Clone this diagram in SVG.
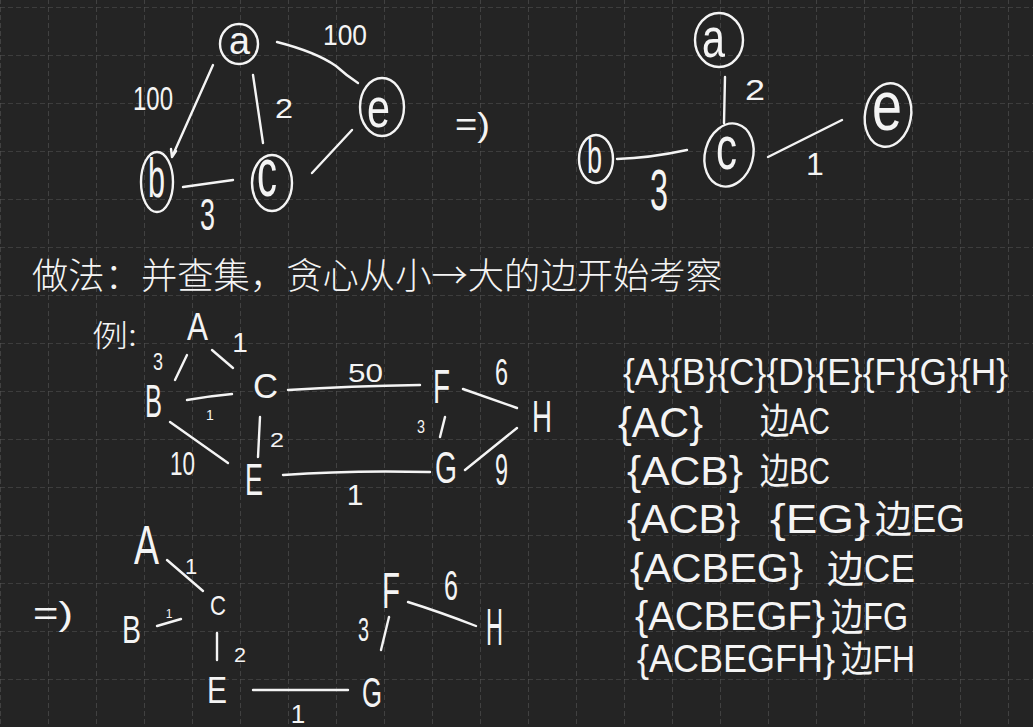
<svg xmlns="http://www.w3.org/2000/svg" width="1033" height="727" viewBox="0 0 1033 727">
<style>
.ink{stroke:#f4f4f4;stroke-width:2.4;fill:none;stroke-linecap:round;stroke-linejoin:round}
.t{fill:#f4f4f4;font-family:"Liberation Sans","Noto Sans CJK SC",sans-serif}
.c{text-anchor:middle}
.cjk{fill:#f4f4f4;font-family:"Noto Sans CJK SC",sans-serif;font-weight:300}
</style>
<defs>
<pattern id="grid" x="0" y="7" width="48" height="48" patternUnits="userSpaceOnUse">
<path d="M0,0 H48 M0,0 V48" stroke="#555555" stroke-width="1.2" stroke-dasharray="5 3" fill="none"/>
</pattern>
</defs>
<rect width="1033" height="727" fill="#242424"/>
<rect width="1033" height="727" fill="url(#grid)"/>

<g id="connectors">
<!-- top-left graph -->
<path class="ink" d="M213,65 L172,157 M171,149 L172,157 L176,151"/>
<path class="ink" d="M253,75 L263,143"/>
<path class="ink" d="M277,42 Q316,52 336,66 Q347,76 358,83"/>
<path class="ink" d="M352,130 L312,173"/>
<path class="ink" d="M183,187 L233,180"/>
<!-- top-right graph -->
<path class="ink" d="M725,77 L724,123"/>
<path class="ink" d="M617,159 Q650,158 687,150"/>
<path class="ink" d="M768,157 L842,120"/>
<!-- middle graph -->
<path class="ink" d="M187,355 L175,380"/>
<path class="ink" d="M212,350 L233,368"/>
<path class="ink" d="M187,400 Q210,396 232,394"/>
<path class="ink" d="M288,390 Q350,386 420,385"/>
<path class="ink" d="M463,389 L517,408"/>
<path class="ink" d="M445,417 L440,437"/>
<path class="ink" d="M260,417 L258,457"/>
<path class="ink" d="M170,422 L228,463"/>
<path class="ink" d="M283,475 Q350,470 430,472"/>
<path class="ink" d="M465,470 L517,428"/>
<!-- bottom graph -->
<path class="ink" d="M167,560 L203,591"/>
<path class="ink" d="M157,626 L181,619"/>
<path class="ink" d="M217,633 L217,660"/>
<path class="ink" d="M253,690 L348,690"/>
<path class="ink" d="M408,602 Q440,612 476,626"/>
<path class="ink" d="M389,617 L381,650"/>
<!-- edge labels -->
<text class="t" x="323" y="45" font-size="30" textLength="44" lengthAdjust="spacingAndGlyphs">100</text>
<text class="t" x="133" y="110" font-size="34" textLength="40" lengthAdjust="spacingAndGlyphs">100</text>
<text class="t" x="275" y="118" font-size="28" textLength="18" lengthAdjust="spacingAndGlyphs">2</text>
<text class="t" x="200" y="230" font-size="44" textLength="15" lengthAdjust="spacingAndGlyphs">3</text>
<text class="t" x="745" y="100" font-size="30" textLength="20" lengthAdjust="spacingAndGlyphs">2</text>
<text class="t" x="650" y="210" font-size="58" textLength="18" lengthAdjust="spacingAndGlyphs">3</text>
<text class="t c" x="815" y="175" font-size="32">1</text>
<text class="t c" x="240" y="352" font-size="28">1</text>
<text class="t" x="153" y="370" font-size="24" textLength="10" lengthAdjust="spacingAndGlyphs">3</text>
<text class="t c" x="210" y="420" font-size="14">1</text>
<text class="t" x="348" y="382" font-size="26" textLength="35" lengthAdjust="spacingAndGlyphs">50</text>
<text class="t" x="495" y="385" font-size="37" textLength="13" lengthAdjust="spacingAndGlyphs">6</text>
<text class="t" x="417" y="433" font-size="18" textLength="8" lengthAdjust="spacingAndGlyphs">3</text>
<text class="t" x="270" y="447" font-size="20" textLength="14" lengthAdjust="spacingAndGlyphs">2</text>
<text class="t" x="170" y="475" font-size="34" textLength="25" lengthAdjust="spacingAndGlyphs">10</text>
<text class="t" x="495" y="485" font-size="44" textLength="13" lengthAdjust="spacingAndGlyphs">9</text>
<text class="t c" x="355" y="505" font-size="30">1</text>
<text class="t c" x="191" y="574" font-size="22">1</text>
<text class="t c" x="169" y="618" font-size="12">1</text>
<text class="t" x="234" y="662" font-size="20" textLength="12" lengthAdjust="spacingAndGlyphs">2</text>
<text class="t c" x="298" y="723" font-size="26">1</text>
<text class="t" x="444" y="600" font-size="43" textLength="14" lengthAdjust="spacingAndGlyphs">6</text>
<text class="t" x="358" y="641" font-size="33" textLength="11" lengthAdjust="spacingAndGlyphs">3</text>
</g>

<!-- top-left graph nodes -->
<g id="tl-a"><ellipse class="ink" cx="239" cy="44" rx="19" ry="20"/><text class="t" x="229" y="54" font-size="38" textLength="21" lengthAdjust="spacingAndGlyphs">a</text></g>
<g id="tl-b"><ellipse class="ink" cx="157" cy="182" rx="16" ry="30"/><text class="t" x="148" y="197" font-size="56" textLength="17" lengthAdjust="spacingAndGlyphs">b</text></g>
<g id="tl-c"><ellipse class="ink" cx="272" cy="183" rx="20" ry="28"/><text class="t" x="257" y="196" font-size="68" textLength="20" lengthAdjust="spacingAndGlyphs">c</text></g>
<g id="tl-e"><ellipse class="ink" cx="382" cy="107" rx="22" ry="29"/><text class="t" x="367" y="127" font-size="56" textLength="23" lengthAdjust="spacingAndGlyphs">e</text></g>
<g id="arrow1"><text class="t" x="455" y="136" font-size="34" textLength="35" lengthAdjust="spacingAndGlyphs">=)</text></g>

<!-- top-right graph nodes -->
<g id="tr-a"><ellipse class="ink" cx="719" cy="40" rx="24" ry="27"/><text class="t" x="702" y="57" font-size="56" textLength="23" lengthAdjust="spacingAndGlyphs">a</text></g>
<g id="tr-b"><ellipse class="ink" cx="596" cy="159" rx="17" ry="24"/><text class="t" x="587" y="173" font-size="48" textLength="15" lengthAdjust="spacingAndGlyphs">b</text></g>
<g id="tr-c"><ellipse class="ink" cx="729" cy="155" rx="24" ry="32" transform="rotate(15 729 155)"/><text class="t" x="716" y="169" font-size="62" textLength="21" lengthAdjust="spacingAndGlyphs">c</text></g>
<g id="tr-e"><ellipse class="ink" cx="888" cy="115" rx="23" ry="32" transform="rotate(10 888 115)"/><text class="t" x="872" y="130" font-size="70" textLength="30" lengthAdjust="spacingAndGlyphs">e</text></g>

<!-- method line -->
<g id="method"><text class="cjk" x="32" y="289" font-size="36" textLength="690" lengthAdjust="spacingAndGlyphs">做法：并查集，贪心从小→大的边开始考察</text></g>

<!-- middle graph -->
<g id="example-label"><text class="cjk" x="92" y="346" font-size="30" textLength="45" lengthAdjust="spacingAndGlyphs">例:</text></g>
<g id="m-A"><text class="t" x="187" y="340" font-size="38" textLength="21" lengthAdjust="spacingAndGlyphs">A</text></g>
<g id="m-B"><text class="t" x="145" y="417" font-size="46" textLength="17" lengthAdjust="spacingAndGlyphs">B</text></g>
<g id="m-C"><text class="t" x="253" y="398" font-size="35" textLength="25" lengthAdjust="spacingAndGlyphs">C</text></g>
<g id="m-F"><text class="t" x="433" y="403" font-size="48" textLength="17" lengthAdjust="spacingAndGlyphs">F</text></g>
<g id="m-H"><text class="t" x="532" y="432" font-size="44" textLength="20" lengthAdjust="spacingAndGlyphs">H</text></g>
<g id="m-E"><text class="t" x="245" y="495" font-size="44" textLength="18" lengthAdjust="spacingAndGlyphs">E</text></g>
<g id="m-G"><text class="t" x="435" y="483" font-size="44" textLength="22" lengthAdjust="spacingAndGlyphs">G</text></g>

<!-- bottom graph -->
<g id="arrow2"><text class="t" x="33" y="625" font-size="34" textLength="40" lengthAdjust="spacingAndGlyphs">=)</text></g>
<g id="b-A"><text class="t" x="134" y="564" font-size="56" textLength="25" lengthAdjust="spacingAndGlyphs">A</text></g>
<g id="b-C"><text class="t" x="210" y="615" font-size="28" textLength="16" lengthAdjust="spacingAndGlyphs">C</text></g>
<g id="b-B"><text class="t" x="122" y="643" font-size="39" textLength="19" lengthAdjust="spacingAndGlyphs">B</text></g>
<g id="b-E"><text class="t" x="207" y="703" font-size="36" textLength="20" lengthAdjust="spacingAndGlyphs">E</text></g>
<g id="b-G"><text class="t" x="362" y="707" font-size="42" textLength="20" lengthAdjust="spacingAndGlyphs">G</text></g>
<g id="b-F"><text class="t" x="382" y="608" font-size="50" textLength="18" lengthAdjust="spacingAndGlyphs">F</text></g>
<g id="b-H"><text class="t" x="486" y="645" font-size="52" textLength="17" lengthAdjust="spacingAndGlyphs">H</text></g>

<!-- union-find steps -->
<g id="steps">
<text class="t" x="623" y="385" font-size="36" textLength="385" lengthAdjust="spacingAndGlyphs">{A}{B}{C}{D}{E}{F}{G}{H}</text>
<text class="t" x="618" y="437" font-size="42" textLength="85" lengthAdjust="spacingAndGlyphs">{AC}</text>
<text class="t" x="760" y="434" font-size="36" textLength="70" lengthAdjust="spacingAndGlyphs">边AC</text>
<text class="t" x="627" y="485" font-size="40" textLength="116" lengthAdjust="spacingAndGlyphs">{ACB}</text>
<text class="t" x="760" y="484" font-size="36" textLength="70" lengthAdjust="spacingAndGlyphs">边BC</text>
<text class="t" x="627" y="533" font-size="40" textLength="113" lengthAdjust="spacingAndGlyphs">{ACB}</text>
<text class="t" x="770" y="533" font-size="40" textLength="100" lengthAdjust="spacingAndGlyphs">{EG}</text>
<text class="t" x="875" y="532" font-size="38" textLength="90" lengthAdjust="spacingAndGlyphs">边EG</text>
<text class="t" x="630" y="582" font-size="40" textLength="173" lengthAdjust="spacingAndGlyphs">{ACBEG}</text>
<text class="t" x="827" y="582" font-size="38" textLength="88" lengthAdjust="spacingAndGlyphs">边CE</text>
<text class="t" x="635" y="630" font-size="40" textLength="190" lengthAdjust="spacingAndGlyphs">{ACBEGF}</text>
<text class="t" x="831" y="630" font-size="38" textLength="77" lengthAdjust="spacingAndGlyphs">边FG</text>
<text class="t" x="637" y="672" font-size="38" textLength="198" lengthAdjust="spacingAndGlyphs">{ACBEGFH}</text>
<text class="t" x="841" y="672" font-size="36" textLength="74" lengthAdjust="spacingAndGlyphs">边FH</text>
</g>
</svg>
